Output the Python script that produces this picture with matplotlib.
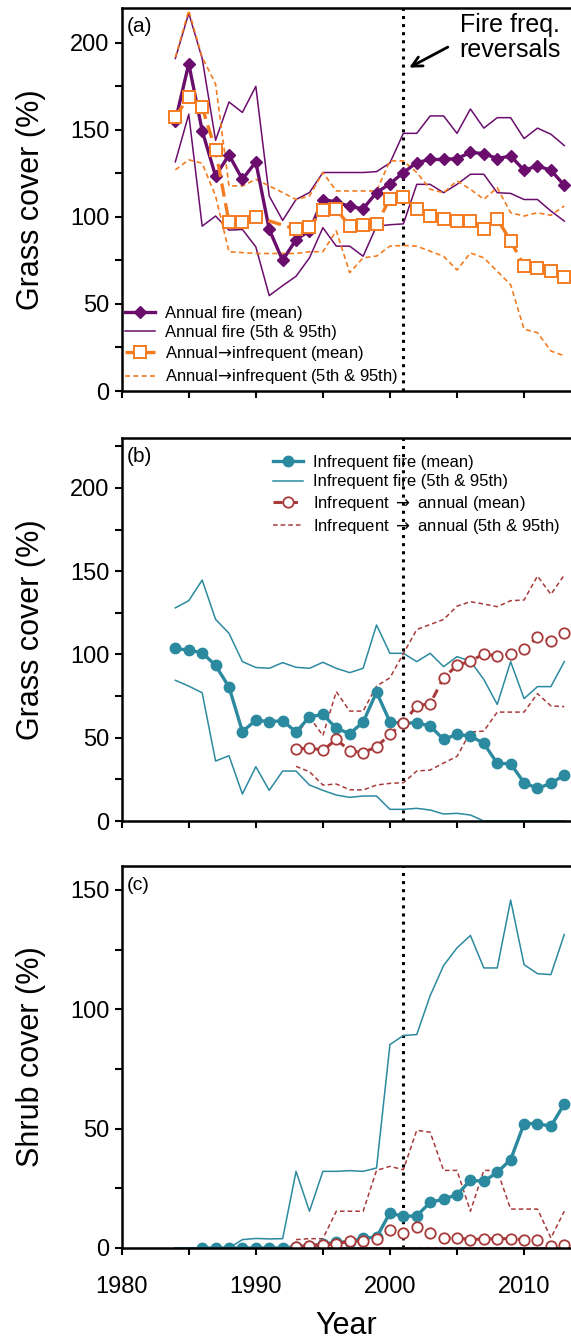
# Fire frequency reversal: grass and shrub cover time series, three stacked panels
import numpy as np
import matplotlib.pyplot as plt
from matplotlib.ticker import MultipleLocator

plt.rcParams['font.family'] = ['Liberation Sans', 'DejaVu Sans']

# ---------------- data ----------------
years = np.arange(1984, 2014)
years_rev = np.arange(1993, 2014)

# (a) annual fire
annual_mean = [155, 188, 149.5, 123.5, 135.6, 121.6, 131.6, 92.8, 75, 87, 92, 110, 108.6, 106, 104.7,
               114, 119, 125.5, 131.2, 133, 133, 133.5, 137, 136.4, 133.5, 135, 126.8, 129.3, 126.8, 118.2]
annual_p95 = [191, 217, 191, 144, 166, 160, 175, 112, 98, 110, 114, 125.5, 125.5, 125.5, 125.5,
              126, 131, 148, 148, 158, 158, 148, 162, 151, 157, 157, 145, 151, 147.5, 141]
annual_p5 = [131.6, 159, 94.7, 100.5, 92.4, 92.8, 82.8, 54.8, 60.5, 65.9, 76.5, 93.8, 83.2, 83.2, 77.4,
             94.7, 95.5, 96, 118.7, 118.7, 113.9, 118.7, 124.5, 124.5, 113.9, 113.5, 110, 110, 103.4, 97.6]

# (a) annual -> infrequent (no mean markers in 1991-1992)
a2i_years = [1984, 1985, 1986, 1987, 1988, 1989, 1990, 1993, 1994, 1995, 1996, 1997, 1998, 1999,
             2000, 2001, 2002, 2003, 2004, 2005, 2006, 2007, 2008, 2009, 2010, 2011, 2012, 2013]
a2i_mean = [157.5, 169, 163, 138.3, 97, 97, 100, 93, 94.1, 104, 104.4, 94.7, 95.3, 95.7,
            110.5, 111.2, 104.3, 100.7, 98.6, 97.6, 97.6, 93.2, 98.9, 86.1, 72, 70.7, 68.8, 65.2]
a2i_p95 = [191.7, 218.6, 191.7, 176.4, 117.8, 117.8, 121.6, 117.8, 114, 110, 112, 125.5, 114.9, 114.9,
           114.9, 114.9, 132.2, 132.2, 125.5, 115.9, 113.9, 120.7, 115.9, 110.1, 116.8, 102.4, 100.5,
           102.4, 100.9, 106.3]
a2i_p5 = [127, 132.8, 130.8, 112, 80, 79.5, 79, 79, 79, 79, 80, 80, 92, 68, 76.5,
          77.5, 83.2, 83.6, 83.2, 80.3, 77.4, 69.5, 79.3, 76.5, 68.8, 61, 35.5, 33.5, 23, 20.2]

# (b) infrequent fire, grass
inf_mean = [103.7, 102.5, 101.1, 93.4, 80.5, 53.7, 60.5, 59.7, 60.2, 53.5, 62.5, 64, 55.7, 52.5, 59.3,
            77.4, 59.5, 58.7, 59, 57, 49, 52, 51, 46.6, 34.6, 34.4, 23, 19.6, 22.6, 27.6]
inf_p95 = [128, 132.3, 144.7, 121.1, 112.7, 95.7, 92.2, 91.7, 95.1, 92.3, 91.7, 95.3, 91.7, 89.1, 91.7,
           117.7, 100.7, 100.7, 95.7, 100.7, 92.7, 98.7, 96, 85, 70, 95.7, 73.5, 80.7, 80.7, 95.7]
inf_p5 = [84.5, 81, 77, 36, 39.2, 16.2, 32.6, 18.4, 30, 30, 21.6, 18.4, 15.6, 14.2, 15,
          15, 7, 7, 7.6, 6.6, 4.2, 4.6, 3.6, 0, 0, 0, 0, 0, 0, 0]

# (b) infrequent -> annual, grass
i2a_mean = [43, 44, 42.4, 49, 42.2, 41, 44.6, 52, 59, 69.1, 70.5, 86, 93.4, 96, 100.3,
            99.2, 100.3, 103.4, 110.3, 108.3, 113.1]
i2a_p95 = [51.5, 62.5, 51.3, 77.7, 66, 66, 81, 86, 100.5, 115, 118, 121, 129, 131.7, 130.3,
           128.7, 132.3, 132.7, 147.1, 136.1, 147.7]
i2a_p5 = [32.8, 29.6, 21.6, 22.2, 18.8, 18.6, 21.6, 22.6, 23, 30, 30.6, 34.8, 38.8, 53.4, 54,
          65.4, 65.4, 65.4, 76.5, 69.1, 68.7]

# (c) shrub cover
shrub_years = np.arange(1986, 2014)
shrub_inf_mean = [0, 0, 0, 0, 0, 0, 0, 0.5, 1, 1.5, 2.5, 2.5, 4.2, 4.5, 14.7, 13.2, 13.5, 19.1,
                  20.5, 22.3, 28.4, 27.9, 31.7, 37, 52.1, 52.1, 51, 60.3]
shrub_inf_p95 = [0, 0, 0, 0, 0, 3.5, 4, 3.8, 3.9, 32.1, 15.4, 32.1, 32.1, 32.4, 32.1, 33.5, 85.2, 89,
                 89.4, 105.7, 118.3, 125.7, 130.9, 117.3, 117.3, 145.7, 118.7, 114.9, 114.5, 131.3]
shrub_inf_p5 = [0] * 30
shrub_i2a_mean = [0.4, 1, 1.4, 1.8, 2.8, 2.8, 3.8, 7.7, 6.3, 8.8, 6.3, 4.2, 4.2, 3.5, 3.8,
                  3.9, 3.9, 3.5, 3.2, 0.7, 1.4]
shrub_i2a_p95 = [3.5, 3.9, 3.9, 15.4, 15.4, 15.4, 32.5, 34.2, 32.8, 49.3, 48.5, 32.5, 32.5, 15.4,
                 32.5, 32.5, 16.3, 16.3, 16.3, 4.2, 15.4]
shrub_i2a_p5 = [0] * 21

# ---------------- style ----------------
purple = '#6a0d6d'
orange = '#f47c20'
teal = '#2b8a9f'
red = '#a83a3a'
arrow_tight = '$\\!\\rightarrow\\!$'   # "Annual→infrequent" has no spaces
arrow_wide = ' $\\rightarrow$ '

W, H = 571, 1340
fig = plt.figure(figsize=(W / 100, H / 100), dpi=100)
left = 121.7 / W
width = 1 - left
ax_a = fig.add_axes([left, 1 - 391 / H, width, 383 / H])
ax_b = fig.add_axes([left, 1 - 821 / H, width, 383 / H])
ax_c = fig.add_axes([left, 1 - 1248 / H, width, 382 / H])

for ax in (ax_a, ax_b, ax_c):
    ax.set_xlim(1980, 2013.5)
    ax.xaxis.set_major_locator(MultipleLocator(10))
    ax.xaxis.set_minor_locator(MultipleLocator(5))
    ax.yaxis.set_major_locator(MultipleLocator(50))
    ax.yaxis.set_minor_locator(MultipleLocator(25))
    for s in ('left', 'bottom', 'top'):
        ax.spines[s].set_linewidth(1.8)
    ax.spines['right'].set_visible(False)
    ax.tick_params(which='both', direction='out', length=5, width=1.5, labelsize=17, pad=4)
    ax.tick_params(axis='x', which='both', pad=15)
    ax.axvline(2001, color='black', ls=':', lw=2.2, zorder=1)
    ax.yaxis.set_label_coords(-0.168, 0.5)

ax_a.set_ylim(0, 220)
ax_b.set_ylim(0, 230)
ax_c.set_ylim(0, 160)
ax_a.tick_params(axis='x', labelbottom=False)
ax_b.tick_params(axis='x', labelbottom=False)

leg_kw = dict(loc='upper left', frameon=False, fontsize=12, borderpad=0, borderaxespad=0,
              labelspacing=0.25, handlelength=1.8, handletextpad=0.6)
order = [2, 0, 3, 1]

# ---------------- (a) ----------------
ax_a.plot(years, annual_p95, color=purple, lw=1.1, label='Annual fire (5th & 95th)')
ax_a.plot(years, annual_p5, color=purple, lw=1.1)
ax_a.plot(years, a2i_p95, color=orange, lw=1.2, dashes=(3, 2),
          label='Annual' + arrow_tight + 'infrequent (5th & 95th)')
ax_a.plot(years, a2i_p5, color=orange, lw=1.2, dashes=(3, 2))
ax_a.plot(years, annual_mean, color=purple, lw=2.4, marker='D', ms=6.5, label='Annual fire (mean)')
ax_a.plot(a2i_years, a2i_mean, color=orange, lw=2.4, dashes=(4, 2), marker='s', ms=8.5,
          mfc='white', mec=orange, mew=1.4, label='Annual' + arrow_tight + 'infrequent (mean)')

h, l = ax_a.get_legend_handles_labels()
ax_a.legend([h[i] for i in order], [l[i] for i in order], bbox_to_anchor=(0.008, 0.222), **leg_kw)

ax_a.text(0.012, 0.953, '(a)', transform=ax_a.transAxes, fontsize=15, ha='left', va='center')
ax_a.text(2008.95, 202.9, 'Fire freq.\nreversals', fontsize=18, ha='center', va='center',
          linespacing=1.05)
ax_a.annotate('', xy=(2001.25, 185), xytext=(2004.5, 198.3),
              arrowprops=dict(arrowstyle='->', lw=2, color='black', mutation_scale=18))
ax_a.set_ylabel('Grass cover (%)', fontsize=22)

# ---------------- (b) ----------------
ax_b.plot(years, inf_p95, color=teal, lw=1.1, label='Infrequent fire (5th & 95th)')
ax_b.plot(years, inf_p5, color=teal, lw=1.1)
ax_b.plot(years_rev, i2a_p95, color=red, lw=1.1, dashes=(3, 2),
          label='Infrequent' + arrow_wide + 'annual (5th & 95th)')
ax_b.plot(years_rev, i2a_p5, color=red, lw=1.1, dashes=(3, 2))
ax_b.plot(years, inf_mean, color=teal, lw=2.4, marker='o', ms=7.5, label='Infrequent fire (mean)')
ax_b.plot(years_rev, i2a_mean, color=red, lw=2.2, dashes=(3, 2), marker='o', ms=7.5,
          mfc='white', mec=red, mew=1.3, label='Infrequent' + arrow_wide + 'annual (mean)')

h, l = ax_b.get_legend_handles_labels()
ax_b.legend([h[i] for i in order], [l[i] for i in order], bbox_to_anchor=(0.336, 0.955), **leg_kw)
ax_b.text(0.012, 0.953, '(b)', transform=ax_b.transAxes, fontsize=15, ha='left', va='center')
ax_b.set_ylabel('Grass cover (%)', fontsize=22)

# ---------------- (c) ----------------
ax_c.plot(years, shrub_inf_p95, color=teal, lw=1.1)
ax_c.plot(years, shrub_inf_p5, color=teal, lw=1.1)
ax_c.plot(years_rev, shrub_i2a_p95, color=red, lw=1.1, dashes=(3, 2))
ax_c.plot(years_rev, shrub_i2a_p5, color=red, lw=1.1, dashes=(3, 2))
ax_c.plot(shrub_years, shrub_inf_mean, color=teal, lw=2.4, marker='o', ms=7.5)
ax_c.plot(years_rev, shrub_i2a_mean, color=red, lw=2.2, dashes=(3, 2), marker='o', ms=7.5,
          mfc='white', mec=red, mew=1.3)
ax_c.text(0.012, 0.95, '(c)', transform=ax_c.transAxes, fontsize=14, ha='left', va='center')
ax_c.set_ylabel('Shrub cover (%)', fontsize=22)
ax_c.set_xlabel('Year', fontsize=22)
ax_c.xaxis.set_label_coords(0.5, -0.165)

fig.savefig('out.png', dpi=100)
